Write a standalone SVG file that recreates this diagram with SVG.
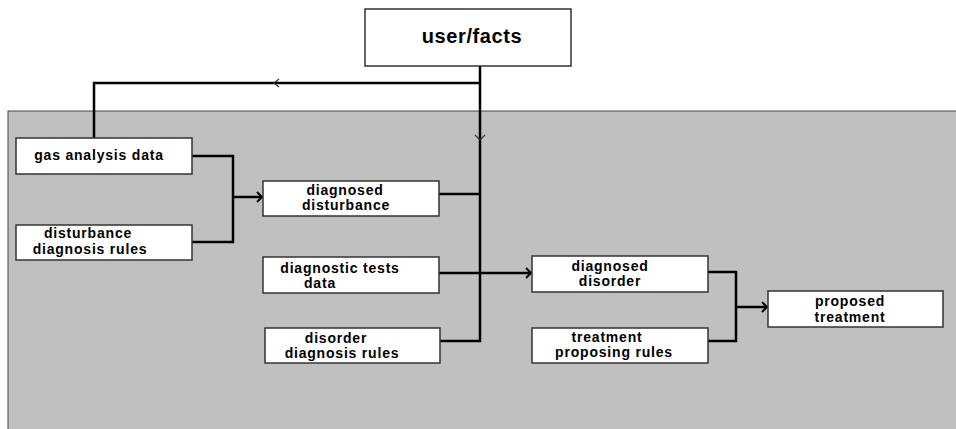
<svg xmlns="http://www.w3.org/2000/svg" width="956" height="429" viewBox="0 0 956 429">
<style>
.box{fill:#fff;stroke:#333;stroke-width:1.5}
.lbl{font-family:"Liberation Sans",Arial,sans-serif;font-weight:bold;font-size:14px;letter-spacing:0.8px;fill:#000;text-anchor:middle}
.big{font-size:20px;letter-spacing:0.6px}
.ln{fill:none;stroke:#000;stroke-width:2.5}
.ah{fill:none;stroke:#000;stroke-width:2}
.sm{fill:none;stroke:#333;stroke-width:1.2}
</style>
<rect x="0" y="0" width="956" height="429" fill="#fff"/>
<rect id="panel" x="8" y="111" width="960" height="330" fill="#c0c0c0" stroke="#444" stroke-width="1"/>
<g id="connectors">
<path class="ln" d="M480 66 V341 H440"/>
<path class="ln" d="M480 83 H94 V138"/>
<path class="sm" d="M279 79 L274 83 L279 87"/>
<path class="sm" d="M475 135 L480 140 L485 135"/>
<path class="ln" d="M192 156 H233 V242 H192"/>
<path class="ln" d="M233 197 H262"/>
<path class="ah" d="M257 192 L262 197 L257 202"/>
<path class="ln" d="M439 194 H480"/>
<path class="ln" d="M439 273 H531"/>
<path class="ah" d="M526 268 L531 273 L526 278"/>
<path class="ln" d="M708 272 H736 V341 H708"/>
<path class="ln" d="M736 307 H767"/>
<path class="ah" d="M762 302 L767 307 L762 312"/>
</g>
<g id="user-facts"><rect class="box" x="365" y="9" width="206" height="57"/><text class="lbl big" x="472" y="43">user/facts</text></g>
<g id="gas-analysis-data"><rect class="box" x="16" y="138" width="176" height="36"/><text class="lbl" x="99" y="160">gas analysis data</text></g>
<g id="disturbance-diagnosis-rules"><rect class="box" x="16" y="225" width="176" height="35"/><text class="lbl" x="88" y="238">disturbance</text><text class="lbl" x="90" y="254">diagnosis rules</text></g>
<g id="diagnosed-disturbance"><rect class="box" x="263" y="181" width="176" height="35"/><text class="lbl" x="345" y="195">diagnosed</text><text class="lbl" x="346" y="210">disturbance</text></g>
<g id="diagnostic-tests-data"><rect class="box" x="263" y="257" width="176" height="36"/><text class="lbl" x="340" y="273">diagnostic tests</text><text class="lbl" x="320" y="288">data</text></g>
<g id="disorder-diagnosis-rules"><rect class="box" x="265" y="328" width="175" height="35"/><text class="lbl" x="336" y="343">disorder</text><text class="lbl" x="342" y="358">diagnosis rules</text></g>
<g id="diagnosed-disorder"><rect class="box" x="532" y="256" width="176" height="36"/><text class="lbl" x="610" y="271">diagnosed</text><text class="lbl" x="610" y="286">disorder</text></g>
<g id="treatment-proposing-rules"><rect class="box" x="532" y="328" width="176" height="35"/><text class="lbl" x="607" y="342">treatment</text><text class="lbl" x="614" y="357">proposing rules</text></g>
<g id="proposed-treatment"><rect class="box" x="768" y="291" width="175" height="36"/><text class="lbl" x="850" y="306">proposed</text><text class="lbl" x="850" y="322">treatment</text></g>
</svg>
